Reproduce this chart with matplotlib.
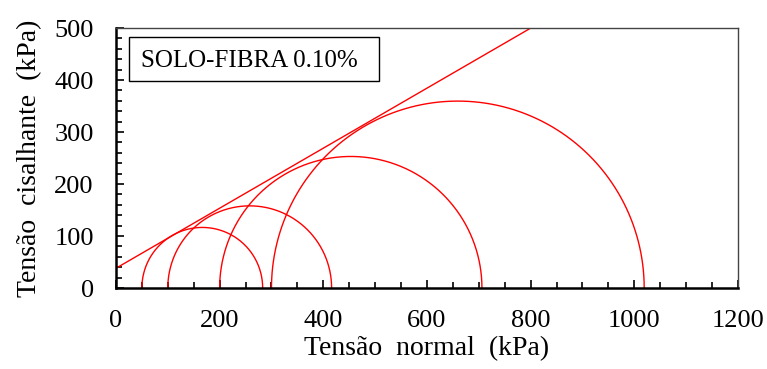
import numpy as np
import matplotlib
matplotlib.use("Agg")
import matplotlib.pyplot as plt
from matplotlib.ticker import MultipleLocator
from matplotlib.patches import Rectangle

plt.rcParams['font.family'] = ['Liberation Serif', 'DejaVu Serif']

# Circulos de Mohr: tensao menor e maior (kPa)
sigma3 = [50, 100, 200, 300]
sigma1 = [283, 416, 706, 1019]

# Envoltoria de ruptura
coesao = 38.0
phi_graus = 30.0
envoltoria_x = [0, 800]

fig = plt.figure(figsize=(7.67, 3.69), dpi=100)
ax = fig.add_axes([0.1512, 0.2195, 0.8110, 0.7045])

for s3, s1 in zip(sigma3, sigma1):
    c = (s1 + s3) / 2
    r = (s1 - s3) / 2
    t = np.linspace(0, np.pi, 300)
    ax.plot(c + r * np.cos(t), r * np.sin(t), color='red', lw=1.0)

xs = np.array(envoltoria_x, dtype=float)
ax.plot(xs, coesao + xs * np.tan(np.radians(phi_graus)), color='red', lw=1.0)

ax.set_xlim(0, 1200)
ax.set_ylim(0, 500)
ax.xaxis.set_major_locator(MultipleLocator(200))
ax.xaxis.set_minor_locator(MultipleLocator(50))
ax.yaxis.set_major_locator(MultipleLocator(100))
ax.yaxis.set_minor_locator(MultipleLocator(20))
ax.tick_params(which='both', direction='in', top=False, right=False, labelsize=19, width=1.2)
ax.tick_params(which='major', length=6, pad=16)
ax.tick_params(which='minor', length=4)

for s in ['left', 'bottom']:
    ax.spines[s].set_linewidth(1.8)
for s in ['top', 'right']:
    ax.spines[s].set_linewidth(1.0)
    ax.spines[s].set_color('#444444')

ax.set_xlabel("Tensão  normal  (kPa)", fontsize=20, labelpad=3)
ax.set_ylabel("Tensão  cisalhante  (kPa)", fontsize=20, labelpad=9)

ax.add_patch(Rectangle((0.0214, 0.796), 0.4009, 0.168, transform=ax.transAxes,
                       fc='white', ec='black', lw=1.0, zorder=3))
ax.text(0.0397, 0.852, "SOLO-FIBRA 0.10%", transform=ax.transAxes, fontsize=18,
        va='baseline', ha='left', zorder=4)

fig.savefig("out.png", dpi=100)
